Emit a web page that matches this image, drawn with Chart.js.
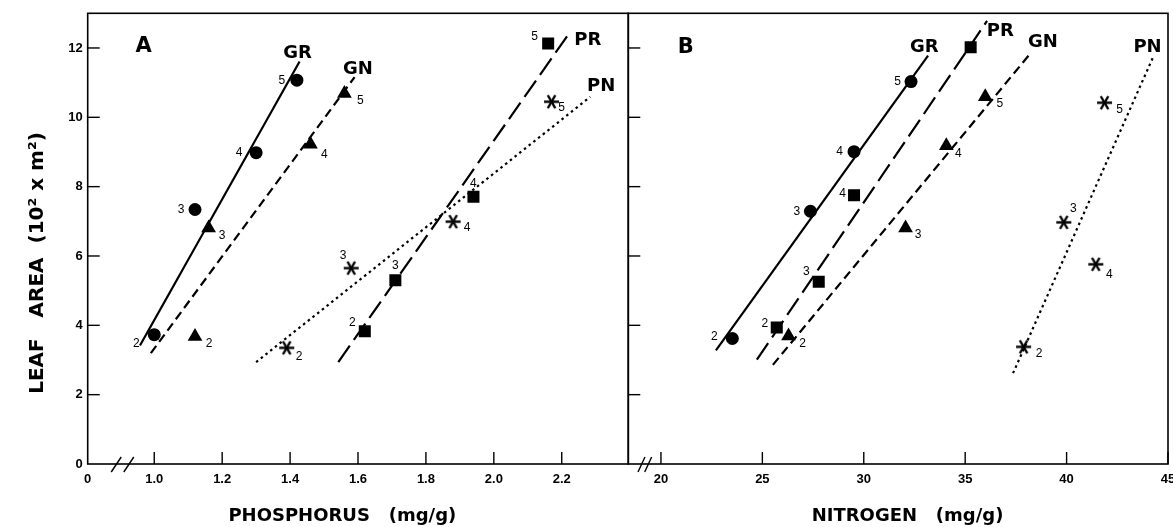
<!DOCTYPE html>
<html><head><meta charset="utf-8">
<script src="https://cdn.jsdelivr.net/npm/chart.js@4"></script>
<style>
html,body{margin:0;padding:0;background:#fff;overflow:hidden;width:1173px;height:527px;}
#wrap{position:relative;width:1173px;height:527px;overflow:hidden;}
canvas{position:absolute;top:0;}
#cA{left:0;}
#cB{left:600px;}
</style></head><body>
<div id="wrap"><canvas id="cA" width="640" height="527"></canvas><canvas id="cB" width="581" height="527"></canvas></div>
<script>
// ---------- shared axis data ----------
const stages = [2, 3, 4, 5];
const yTicks = [0, 2, 4, 6, 8, 10, 12];
const yRange = [0, 13];
const yTitle = 'LEAF   AREA  (10\u00B2 x m\u00B2)';

// ---------- panel A : phosphorus ----------
const pRange = [0.804, 2.396];
const pTicks = [0.804, 1.0, 1.2, 1.4, 1.6, 1.8, 2.0, 2.2];
const pTickLabels = ['0', '1.0', '1.2', '1.4', '1.6', '1.8', '2.0', '2.2'];
const pTitle = 'PHOSPHORUS   (mg/g)';

const grP_x = [1.00, 1.12, 1.30, 1.42];
const grP_y = [3.73, 7.34, 8.98, 11.07];
const gnP_x = [1.12, 1.16, 1.46, 1.56];
const gnP_y = [3.68, 6.81, 9.22, 10.69];
const prP_x = [1.62, 1.71, 1.94, 2.16];
const prP_y = [3.83, 5.30, 7.71, 12.13];
const pnP_x = [1.39, 1.58, 1.88, 2.17];
const pnP_y = [3.35, 5.65, 6.99, 10.45];

const grP_fitX = [0.958, 1.428], grP_fitY = [3.42, 11.61];
const gnP_fitX = [0.990, 1.590], gnP_fitY = [3.20, 11.16];
const prP_fitX = [1.542, 2.226], prP_fitY = [2.94, 12.48];
const pnP_fitX = [1.300, 2.284], pnP_fitY = [2.94, 10.59];

// ---------- panel B : nitrogen ----------
const nRange = [18.39, 45];
const nTicks = [20, 25, 30, 35, 40, 45];
const nTickLabels = ['20', '25', '30', '35', '40', '45'];
const nTitle = 'NITROGEN   (mg/g)';

const grN_x = [23.52, 27.37, 29.52, 32.33];
const grN_y = [3.62, 7.29, 9.01, 11.03];
const prN_x = [25.71, 27.78, 29.52, 35.27];
const prN_y = [3.94, 5.26, 7.75, 12.02];
const gnN_x = [26.29, 32.06, 34.07, 35.99];
const gnN_y = [3.69, 6.81, 9.18, 10.59];
const pnN_x = [37.88, 39.86, 41.44, 41.87];
const pnN_y = [3.38, 6.97, 5.76, 10.42];

const grN_fitX = [22.71, 33.17], grN_fitY = [3.28, 11.78];
const prN_fitX = [24.73, 36.08], prN_fitY = [3.01, 12.78];
const gnN_fitX = [25.52, 38.17], gnN_fitY = [2.86, 11.81];
const pnN_fitX = [37.36, 44.26], pnN_fitY = [2.62, 11.73];

// ---------- text annotations (data coordinates) ----------
const annA_text = ['A', 'GR', 'GN', 'PR', 'PN'];
const annA_x = [0.969, 1.422, 1.600, 2.277, 2.316];
const annA_y = [12.05, 11.85, 11.37, 12.22, 10.90];
const annB_text = ['B', 'GR', 'PR', 'GN', 'PN'];
const annB_x = [21.22, 32.99, 36.73, 38.83, 43.99];
const annB_y = [12.02, 12.02, 12.49, 12.17, 12.02];

// ---------- styles ----------
function asterisk() {
  const c = document.createElement('canvas');
  c.width = 17; c.height = 17;
  const g = c.getContext('2d');
  g.strokeStyle = '#000'; g.lineWidth = 2.4; g.lineCap = 'butt';
  const r = 7.5;
  [0, Math.PI / 3, 2 * Math.PI / 3].forEach(a => {
    g.beginPath();
    g.moveTo(8.5 - r * Math.cos(a), 8.5 - r * Math.sin(a));
    g.lineTo(8.5 + r * Math.cos(a), 8.5 + r * Math.sin(a));
    g.stroke();
  });
  return c;
}
const STAR = asterisk();
const markerStyle = {
  GR: { style: 'circle', r: 6.5, dash: [] },
  GN: { style: 'triangle', r: 8.5, dash: [9, 5] },
  PR: { style: 'rect', r: 8.5, dash: [20, 7] },
  PN: { style: STAR, r: 8, dash: [2.5, 3.5] }
};
// stage-number label offsets (px) relative to each marker
const offA = {
  GR: [[-18, 9], [-14, 0], [-17, 0], [-15, 0]],
  GN: [[14, 7], [13.5, 8], [14, 10], [16, 7]],
  PR: [[-12.5, -8.5], [0, -15], [0, -13], [-13.5, -7]],
  PN: [[12.5, 8.5], [-8, -12], [14, 6], [10, 6]]
};
const offB = {
  GR: [[-18, -2], [-13.5, 0], [-14.5, 0], [-13.5, 0]],
  PR: [[-12, -4], [-12.5, -9.5], [-11.5, -2], null],
  GN: [[14, 7.5], [12.5, 7], [12, 7.5], [14.5, 6.5]],
  PN: [[15.5, 6.5], [9.5, -13.5], [13.5, 10], [15, 6.5]]
};

const FONT_TICK = { family: 'Liberation Sans', weight: 'bold', size: 13 };
const FONT_TITLE = { family: 'DejaVu Sans', weight: 'bold', size: 18 };

const decor = {
  id: 'decor',
  afterDatasetsDraw(chart) {
    const cfg = chart.options.plugins.decor;
    const ctx = chart.ctx, ca = chart.chartArea;
    const xs = chart.scales.x, ys = chart.scales.y;
    ctx.save();
    ctx.strokeStyle = '#000'; ctx.fillStyle = '#000';
    // frame
    ctx.lineWidth = 1.6; ctx.setLineDash([]);
    ctx.strokeRect(ca.left, ca.top, ca.right - ca.left, ca.bottom - ca.top);
    // inward tick marks
    ctx.lineWidth = 1.4;
    xs.ticks.forEach(t => {
      if (t.value <= xs.min + 1e-6) return;
      const px = xs.getPixelForValue(t.value);
      ctx.beginPath(); ctx.moveTo(px, ca.bottom); ctx.lineTo(px, ca.bottom - 12); ctx.stroke();
    });
    ys.ticks.forEach(t => {
      if (t.value <= ys.min + 1e-6) return;
      const py = ys.getPixelForValue(t.value);
      ctx.beginPath(); ctx.moveTo(ca.left, py); ctx.lineTo(ca.left + 12, py); ctx.stroke();
    });
    // axis break marks
    ctx.lineWidth = 1.4;
    cfg.breaks.forEach(v => {
      const px = xs.getPixelForValue(v);
      ctx.beginPath();
      ctx.moveTo(px - cfg.breakW, ca.bottom + 8);
      ctx.lineTo(px + cfg.breakW, ca.bottom - 7);
      ctx.stroke();
    });
    // series / panel labels
    ctx.textAlign = 'center'; ctx.textBaseline = 'middle';
    cfg.ann.text.forEach((t, i) => {
      const sz = t.length === 1 ? 21 : 18;
      ctx.font = 'bold ' + sz + 'px "DejaVu Sans"';
      ctx.fillText(t, xs.getPixelForValue(cfg.ann.x[i]), ys.getPixelForValue(cfg.ann.y[i]));
    });
    // stage numbers
    ctx.font = '12px "Liberation Sans"';
    chart.data.datasets.forEach((ds, di) => {
      if (!ds.stageOffsets) return;
      const meta = chart.getDatasetMeta(di);
      meta.data.forEach((el, i) => {
        const o = ds.stageOffsets[i];
        if (!o) return;
        ctx.fillText(String(stages[i]), el.x + o[0], el.y + o[1]);
      });
    });
    ctx.restore();
  }
};

function makeChart(id, cfg) {
  const datasets = [];
  cfg.series.forEach(s => {
    const st = markerStyle[s.name];
    datasets.push({
      type: 'line', label: s.name + ' fit',
      data: s.fitX.map((x, i) => ({ x: x, y: s.fitY[i] })),
      borderColor: '#000', borderWidth: 2.2, borderDash: st.dash, borderCapStyle: 'butt',
      pointRadius: 0, fill: false, tension: 0
    });
    datasets.push({
      type: 'scatter', label: s.name,
      data: s.x.map((x, i) => ({ x: x, y: s.y[i] })),
      pointStyle: st.style, pointRadius: st.r, backgroundColor: '#000',
      borderColor: '#000', borderWidth: 0, stageOffsets: cfg.offsets[s.name]
    });
  });
  return new Chart(document.getElementById(id), {
    data: { datasets },
    options: {
      responsive: false, animation: false, devicePixelRatio: 1,
      layout: { padding: { top: 13.3, right: cfg.padRight, left: 0, bottom: 0 } },
      plugins: {
        legend: { display: false }, tooltip: { enabled: false },
        decor: { ann: cfg.ann, breaks: cfg.breaks, breakW: cfg.breakW }
      },
      scales: {
        x: {
          type: 'linear', position: 'bottom', bounds: 'data',
          min: cfg.xRange[0], max: cfg.xRange[1],
          afterBuildTicks: sc => { sc.ticks = cfg.xTicks.map(v => ({ value: v })); },
          afterFit: sc => { sc.height = 63; sc.paddingLeft = 0; sc.paddingRight = 0; },
          grid: { display: false, drawTicks: false, tickLength: 0 },
          border: { display: false },
          ticks: { autoSkip: false, maxRotation: 0, minRotation: 0, padding: 8, color: '#000', font: FONT_TICK,
                   callback: (v, i) => cfg.xLabels[i] },
          title: { display: true, text: cfg.xTitle, color: '#000', font: FONT_TITLE, padding: { top: 3, bottom: 0 } }
        },
        y: {
          type: 'linear', position: 'left', bounds: 'data',
          min: yRange[0], max: yRange[1],
          afterBuildTicks: sc => { sc.ticks = yTicks.map(v => ({ value: v })); },
          afterFit: sc => { sc.width = cfg.yWidth; sc.paddingTop = 0; sc.paddingBottom = 0; },
          grid: { display: false, drawTicks: false, tickLength: 0 },
          border: { display: false },
          ticks: { display: cfg.yLabels, padding: 5, color: '#000', font: FONT_TICK, callback: v => String(v) },
          title: { display: !!cfg.yTitle, text: cfg.yTitle || '', color: '#000',
                   font: { family: 'DejaVu Sans', weight: 'bold', size: 20 }, padding: { top: 26, bottom: 0 } }
        }
      }
    },
    plugins: [decor]
  });
}

makeChart('cA', {
  xRange: pRange, xTicks: pTicks, xLabels: pTickLabels, xTitle: pTitle + '     ',
  yTitle: yTitle + '       ', yWidth: 87.7, yLabels: true, padRight: 11.7,
  breaks: [0.888, 0.925], breakW: 5,
  ann: { text: annA_text, x: annA_x, y: annA_y },
  offsets: offA,
  series: [
    { name: 'GR', x: grP_x, y: grP_y, fitX: grP_fitX, fitY: grP_fitY },
    { name: 'GN', x: gnP_x, y: gnP_y, fitX: gnP_fitX, fitY: gnP_fitY },
    { name: 'PR', x: prP_x, y: prP_y, fitX: prP_fitX, fitY: prP_fitY },
    { name: 'PN', x: pnP_x, y: pnP_y, fitX: pnP_fitX, fitY: pnP_fitY }
  ]
});

makeChart('cB', {
  xRange: nRange, xTicks: nTicks, xLabels: nTickLabels, xTitle: '   ' + nTitle,
  yTitle: null, yWidth: 28.3, yLabels: false, padRight: 13,
  breaks: [19.04, 19.37], breakW: 3.5,
  ann: { text: annB_text, x: annB_x, y: annB_y },
  offsets: offB,
  series: [
    { name: 'GR', x: grN_x, y: grN_y, fitX: grN_fitX, fitY: grN_fitY },
    { name: 'PR', x: prN_x, y: prN_y, fitX: prN_fitX, fitY: prN_fitY },
    { name: 'GN', x: gnN_x, y: gnN_y, fitX: gnN_fitX, fitY: gnN_fitY },
    { name: 'PN', x: pnN_x, y: pnN_y, fitX: pnN_fitX, fitY: pnN_fitY }
  ]
});
</script>
</body></html>
